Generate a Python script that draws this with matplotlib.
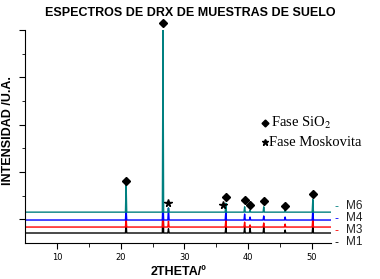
import numpy as np
import matplotlib
matplotlib.use('Agg')
import matplotlib.pyplot as plt
from matplotlib.ticker import FixedLocator

# posiciones de picos (2theta) y alturas por muestra
peak_pos = [20.85, 26.64, 27.5, 36.5, 39.45, 40.3, 42.45, 45.8, 50.15]
samples = ['M1', 'M3', 'M4', 'M6']
colors = ['black', 'red', 'blue', '#008080']
baselines = [4.7, 7.5, 10.8, 14.5]
heights_m1 = [5.0, 16.0, 2.0, 2.8, 2.8, 2.3, 2.8, 1.4, 3.3]
heights_m3 = [4.7, 7.0, 2.8, 3.3, 2.3, 1.0, 1.9, 1.4, 4.2]
heights_m4 = [5.6, 10.0, 5.6, 4.0, 2.8, 1.4, 1.9, 1.4, 4.7]
heights_m6 = [13.6, 85.5, 2.0, 4.2, 2.5, 1.0, 2.5, 1.0, 6.0]
all_heights = [heights_m1, heights_m3, heights_m4, heights_m6]
label_y = [0.4, 6.0, 11.9, 17.4]

# marcadores de fases
sio2_x = [20.85, 26.64, 36.5, 39.45, 40.3, 42.45, 45.8, 50.15]
sio2_y = [29.0, 103.5, 21.5, 20.0, 18.0, 19.5, 17.5, 23.0]
mosk_x = [27.5, 36.1]
mosk_y = [18.7, 17.8]

x_start, x_end = 5.0, 53.0

fig = plt.figure(figsize=(3.8, 2.79), dpi=100)
ax = fig.add_axes([0.066, 0.129, 0.805, 0.763])

hw = 0.1
for name, col, base, hts in zip(samples, colors, baselines, all_heights):
    xs = [x_start]
    ys = [base]
    for p, h in zip(peak_pos, hts):
        xs += [p - hw, p, p + hw]
        ys += [base, base + h, base]
    xs.append(x_end)
    ys.append(base)
    ax.plot(xs, ys, color=col, lw=1.0)

ax.plot(sio2_x, sio2_y, 'D', color='black', ms=4.2, clip_on=False)
ax.plot(mosk_x, mosk_y, '*', color='black', ms=5.5, clip_on=False)

# leyenda de fases
ax.plot([42.6], [56.3], 'D', color='black', ms=3.5, clip_on=False)
ax.plot([42.6], [47.4], '*', color='black', ms=4.5, clip_on=False)
ax.text(43.6, 56.3, 'Fase SiO$_2$', fontsize=10.5, family='Liberation Serif',
        va='center', ha='left', math_fontfamily='stix')
ax.text(43.3, 47.4, 'Fase Moskovita', fontsize=10.5, family='Liberation Serif',
        va='center', ha='left')

# etiquetas de muestras
for name, col, ly in zip(samples, colors, label_y):
    ax.text(53.5, ly, '-', color=col, fontsize=8, va='center', ha='left')
    ax.text(55.3, ly, name, color='#222222', fontsize=8.5, va='center', ha='left',
            family='Liberation Sans')

ax.set_xlim(x_start, x_end)
ax.set_ylim(0, 100)
ax.spines['top'].set_visible(False)
ax.spines['right'].set_visible(False)
ax.xaxis.set_major_locator(FixedLocator([10, 20, 30, 40, 50]))
ax.xaxis.set_minor_locator(FixedLocator([15, 25, 35, 45]))
ax.yaxis.set_major_locator(FixedLocator([100, 77.8, 55.6, 33.3, 11.1]))
ax.yaxis.set_minor_locator(FixedLocator([88.9, 66.7, 44.4, 22.2]))
ax.set_yticklabels([])
ax.tick_params(axis='x', labelsize=6, length=4, pad=3)
ax.tick_params(axis='x', which='minor', length=3)
ax.tick_params(axis='y', length=4)
ax.tick_params(axis='y', which='minor', length=2)

ax.set_xlabel('2THETA/º', fontsize=9, fontweight='bold', family='Liberation Sans', labelpad=3)
ax.set_ylabel('INTENSIDAD /U.A.', fontsize=9, fontweight='bold', family='Liberation Sans')
ax.yaxis.set_label_coords(-0.035, 0.53)
fig.text(0.5, 0.955, 'ESPECTROS DE DRX DE MUESTRAS DE SUELO', ha='center', va='center',
         fontsize=9, fontweight='bold', family='Liberation Sans')

fig.savefig('out.png', dpi=100)
